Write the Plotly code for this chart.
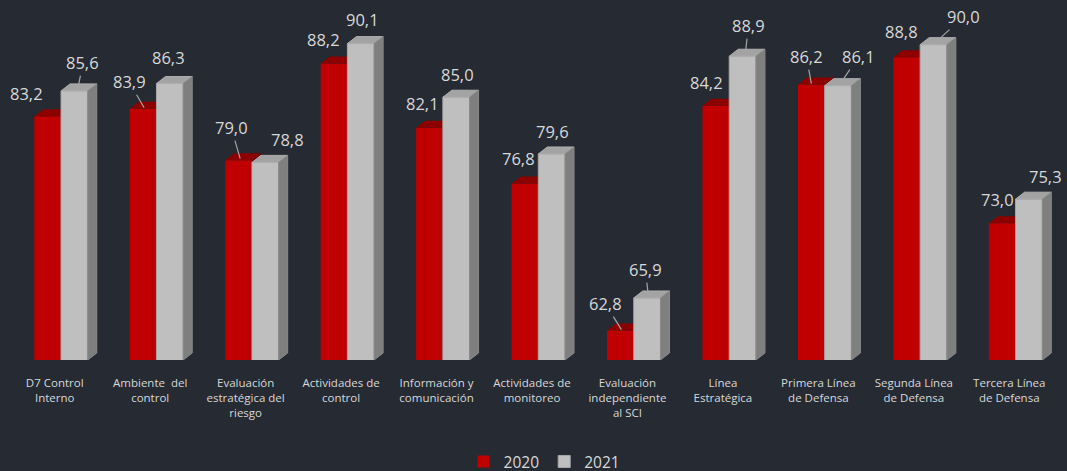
import plotly.graph_objects as go

# ---------------- data ----------------
categories = [
    "D7 Control<br>Interno",
    "Ambiente\u00a0 del<br>control",
    "Evaluación<br>estratégica del<br>riesgo",
    "Actividades de<br>control",
    "Información y<br>comunicación",
    "Actividades de<br>monitoreo",
    "Evaluación<br>independiente<br>al SCI",
    "Línea<br>Estratégica",
    "Primera Línea<br>de Defensa",
    "Segunda Línea<br>de Defensa",
    "Tercera Línea<br>de Defensa",
]
series_names = ["2020", "2021"]
v2020 = [83.2, 83.9, 79.0, 88.2, 82.1, 76.8, 62.8, 84.2, 86.2, 88.8, 73.0]
v2021 = [85.6, 86.3, 78.8, 90.1, 85.0, 79.6, 65.9, 88.9, 86.1, 90.0, 75.3]

# ---------------- style / geometry ----------------
BG = "#252A33"
TXT = "#D9D9D9"
RED, RED_TOP, RED_SIDE = "#C00000", "#8C0000", "#6A0000"
GRY, GRY_TOP, GRY_SIDE = "#BFBFBF", "#A3A3A3", "#7F7F7F"
FONT = "Open Sans"

W, H = 1067, 471
ML, MR, MT, MB = 7, 10, 0, 111
YMIN, YMAX = 60, 94.25
XMIN, XMAX = -0.5, 10.5
PXX = (W - ML - MR) / (XMAX - XMIN)
PXY = (H - MT - MB) / (YMAX - YMIN)

BW = 0.28           # bar width (x units)
SHIFT = 6.3 / PXX   # red/gray boundary offset from category centre
DX = 9 / PXX        # 3D depth, horizontal
DY = 7 / PXY        # 3D depth, vertical

xs = list(range(len(categories)))


def faces(vals, left_off):
    top_x, top_y, side_x, side_y = [], [], [], []
    for i, v in zip(xs, vals):
        x0 = i + left_off
        x1 = x0 + BW
        top_x += [x0, x1, x1 + DX, x0 + DX, x0, None]
        top_y += [v, v, v + DY, v + DY, v, None]
        side_x += [x1, x1, x1 + DX, x1 + DX, x1, None]
        side_y += [YMIN, v, v + DY, YMIN + DY, YMIN, None]
    return top_x, top_y, side_x, side_y


fig = go.Figure()

# 2020 (base subplot)
rtx, rty, rsx, rsy = faces(v2020, SHIFT - BW)
fig.add_trace(go.Bar(x=xs, y=v2020, offset=SHIFT - BW, width=BW, name=series_names[0],
                     marker=dict(color=RED, line=dict(width=0)), xaxis="x", yaxis="y"))
fig.add_trace(go.Scatter(x=rsx, y=rsy, fill="toself", fillcolor=RED_SIDE, mode="lines",
                         line=dict(width=0), showlegend=False, hoverinfo="skip",
                         xaxis="x", yaxis="y"))
fig.add_trace(go.Scatter(x=rtx, y=rty, fill="toself", fillcolor=RED_TOP, mode="lines",
                         line=dict(width=0), showlegend=False, hoverinfo="skip",
                         xaxis="x", yaxis="y"))

# 2021 (overlay subplot, drawn on top)
gtx, gty, gsx, gsy = faces(v2021, SHIFT)
fig.add_trace(go.Bar(x=xs, y=v2021, offset=SHIFT, width=BW, name=series_names[1],
                     marker=dict(color=GRY, line=dict(width=1, color="#A8A8A8")),
                     xaxis="x2", yaxis="y2"))
fig.add_trace(go.Scatter(x=gtx, y=gty, fill="toself", fillcolor=GRY_TOP, mode="lines",
                         line=dict(width=1, color="#B0B0B0"), showlegend=False,
                         hoverinfo="skip", xaxis="x2", yaxis="y2"))
fig.add_trace(go.Scatter(x=gsx, y=gsy, fill="toself", fillcolor=GRY_SIDE, mode="lines",
                         line=dict(width=1, color="#8A8A8A"), showlegend=False,
                         hoverinfo="skip", xaxis="x2", yaxis="y2"))

# ---------------- data labels ----------------
red_lbl = [(-21.6, -22.5), (-14, -27), (-7.4, -32.6), (-10.8, -23.9), (-7.2, -24),
           (-6.6, -24.7), (-15, -27), (-9.4, -23), (-4.8, -27.9), (-5, -25.6), (-4.6, -23.7)]
red_head = [None, (1, -1), (1.6, -1.6), None, None, None, (1, -1), None, (0, -1), None, None]
gry_lbl = [(8.6, -28.2), (-1.8, -25.9), (21.8, -22.7), (1.4, -23.9), (1, -22.5),
           (0.6, -22.3), (-1.8, -28.3), (5.8, -30.6), (20.4, -29), (30, -28), (16.6, -22.5)]
gry_head = [(3.6, -3), None, None, None, None, None, (1.2, -2.3), (2.8, -2.6), (2.4, -2),
            (2, -2), None]

annotations = []


def fmt(v):
    return f"{v:.1f}".replace(".", ",")


for vals, centre_off, lbls, heads in [
    (v2020, SHIFT - BW / 2, red_lbl, red_head),
    (v2021, SHIFT + BW / 2, gry_lbl, gry_head),
]:
    for i, v in enumerate(vals):
        cx = i + centre_off
        lx, ly = lbls[i]
        hd = heads[i]
        common = dict(text=fmt(v), font=dict(family=FONT, size=16.5, color=TXT),
                      xref="x", yref="y")
        if hd is None:
            annotations.append(dict(x=cx, y=v, showarrow=False, xshift=lx, yshift=-ly,
                                    **common))
        else:
            hx, hy = hd
            annotations.append(dict(x=cx + hx / PXX, y=v - hy / PXY, showarrow=True,
                                    arrowhead=0, arrowwidth=1.2, arrowcolor="#A6A6A6",
                                    ax=lx - hx, ay=ly - hy, standoff=0, **common))

fig.update_layout(
    width=W, height=H,
    margin=dict(l=ML, r=MR, t=MT, b=MB, autoexpand=False),
    paper_bgcolor=BG, plot_bgcolor=BG,
    barmode="overlay",
    showlegend=True,
    legend=dict(orientation="h", x=0.512, xanchor="center", y=-0.283, yanchor="middle",
                font=dict(family=FONT, size=15.5, color=TXT), itemwidth=30,
                bgcolor="rgba(0,0,0,0)"),
    xaxis=dict(range=[XMIN, XMAX], tickvals=xs, ticktext=categories, showgrid=False,
               zeroline=False, showline=False, ticks="outside", ticklen=12,
               tickcolor="rgba(0,0,0,0)", automargin=False,
               tickfont=dict(family=FONT, size=11.5, color=TXT)),
    yaxis=dict(range=[YMIN, YMAX], visible=False, showgrid=False, zeroline=False),
    xaxis2=dict(range=[XMIN, XMAX], overlaying="x", visible=False),
    yaxis2=dict(range=[YMIN, YMAX], overlaying="y", visible=False),
    annotations=annotations,
    hovermode=False,
)

fig.write_html("out.html")
